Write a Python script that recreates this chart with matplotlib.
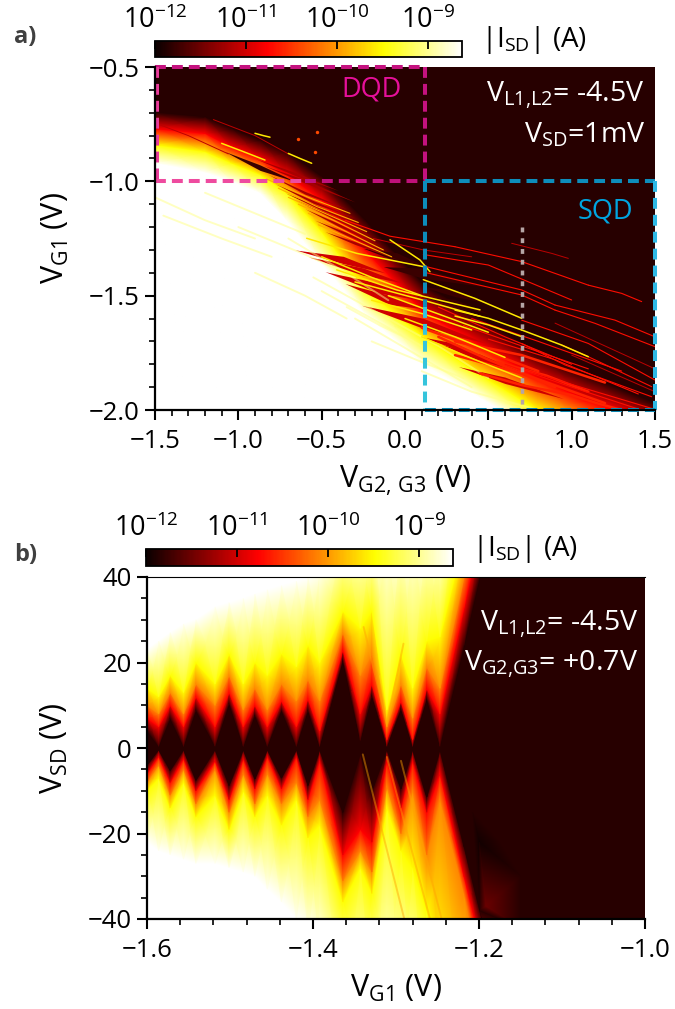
import matplotlib
matplotlib.use("Agg")
import matplotlib.pyplot as plt
import numpy as np
from matplotlib.cm import ScalarMappable
from matplotlib.colors import LogNorm
from matplotlib.ticker import FixedLocator, MultipleLocator

plt.rcParams['font.family'] = ['Open Sans', 'DejaVu Sans']
plt.rcParams['mathtext.fontset'] = 'custom'
plt.rcParams['mathtext.rm'] = 'Open Sans'
plt.rcParams['mathtext.default'] = 'rm'

# Colour scale, exponents of |I_SD|
z_white = -8.63
z_yellow = -9.49
z_orange = -10.1
z_red = -10.77
z_dark = -11.85

# Panel a: envelope of the bright region, V_G1 where each level is reached
a_vg23 = [-1.5, -1.2, -1.04, -0.87, -0.71, -0.5, -0.24, 0.11, 0.46, 0.8, 1.1, 1.5]
a_dark = [-0.70, -0.72, -0.77, -0.82, -0.87, -0.98, -1.17, -1.45, -1.60, -1.75, -1.85, -1.97]
a_red = [-0.77, -0.79, -0.85, -0.90, -0.97, -1.08, -1.30, -1.57, -1.72, -1.86, -1.96, -2.06]
a_yellow = [-0.84, -0.87, -0.92, -0.97, -1.05, -1.22, -1.47, -1.68, -1.85, -2.0, -2.1, -2.2]
a_white = [-0.92, -0.96, -1.0, -1.05, -1.17, -1.36, -1.58, -1.80, -1.95, -2.1, -2.2, -2.3]
a_floor = [-2.6, -2.6, -2.6, -2.6, -2.6, -2.6, -2.6, -2.6, -2.6, -2.6, -2.6, -2.6]

# Panel a: streaks (each row is one line)
faint_x = [[0.64, 0.88, 0.98], [-1.5, -1.3, -1.06], [-1.15, -0.9, -0.7], [-0.19, 0.11, 0.4], [0.9, 1.2, 1.5], [1.0, 1.25, 1.5]]
faint_y = [[-1.271, -1.315, -1.337], [-0.745, -0.8, -0.88], [-0.73, -0.8, -0.88], [-1.25, -1.3, -1.33], [-1.62, -1.72, -1.82], [-1.76, -1.84, -1.92]]
red_x = [[0.3, 0.7, 1.1], [1.1, 1.3, 1.42], [-0.36, -0.09, 0.3], [0.11, 0.5, 1.0], [0.11, 0.7, 0.9], [0.9, 1.26, 1.5],
         [0.13, 0.7, 0.9], [0.9, 1.14, 1.5], [0.94, 1.1, 1.48], [0.7, 1.1, 1.5], [0.7, 0.96, 1.48], [0.7, 0.98, 1.48],
         [0.4, 0.8, 1.3], [0.5, 0.9, 1.4], [0.35, 0.7, 1.1], [0.6, 1.0, 1.5], [0.2, 0.6, 1.0]]
red_y = [[-1.286, -1.351, -1.454], [-1.454, -1.49, -1.526], [-1.17, -1.24, -1.286], [-1.32, -1.366, -1.519],
         [-1.37, -1.475, -1.541], [-1.541, -1.607, -1.68], [-1.40, -1.497, -1.563], [-1.563, -1.621, -1.723],
         [-1.716, -1.767, -1.898], [-1.607, -1.709, -1.869], [-1.709, -1.803, -1.942], [-1.818, -1.884, -1.993],
         [-1.60, -1.70, -1.83], [-1.69, -1.78, -1.93], [-1.63, -1.72, -1.82], [-1.80, -1.90, -2.02], [-1.55, -1.68, -1.80]]
band_x = [[0.45, 0.7, 1.0], [1.0, 1.15, 1.3], [0.3, 0.7, 1.2], [0.3, 0.7, 1.2], [0.1, 0.4, 0.8], [0.55, 0.85, 1.1], [0.2, 0.5, 0.9]]
band_y = [[-1.84, -1.891, -1.935], [-1.935, -1.97, -2.0], [-1.70, -1.76, -1.88], [-1.76, -1.84, -1.97], [-1.64, -1.72, -1.83], [-1.79, -1.85, -1.92], [-1.68, -1.78, -1.90]]
yellow_x = [[0.11, 0.42, 0.7], [0.3, 0.5, 0.7], [0.7, 0.94, 1.1], [0.3, 0.5, 0.7], [-0.59, -0.29, 0.11], [-0.09, 0.09, 0.15],
            [-0.41, -0.05, 0.45], [-0.3, 0.11, 0.45], [-0.2, 0.11, 0.4], [-1.1, -0.97, -0.84], [-0.7, -0.63, -0.56], [-0.9, -0.85, -0.81],
            [0.0, 0.3, 0.6], [-0.1, 0.2, 0.5], [-0.5, -0.2, 0.1], [0.1, 0.35, 0.7]]
yellow_y = [[-1.43, -1.512, -1.599], [-1.563, -1.599, -1.65], [-1.65, -1.716, -1.767], [-1.589, -1.628, -1.679],
            [-1.249, -1.315, -1.373], [-1.256, -1.344, -1.395], [-1.387, -1.475, -1.562], [-1.44, -1.52, -1.59],
            [-1.52, -1.58, -1.65], [-0.834, -0.87, -0.907], [-0.878, -0.9, -0.921], [-0.79, -0.80, -0.807],
            [-1.60, -1.68, -1.77], [-1.50, -1.58, -1.66], [-1.33, -1.42, -1.50], [-1.68, -1.76, -1.86]]
fine_bright_x = [[-0.76, -0.53, -0.28], [-0.70, -0.48, -0.23], [-0.64, -0.43, -0.18], [-0.58, -0.38, -0.13], [-0.52, -0.33, -0.08], [-0.83, -0.58, -0.33]]
fine_bright_y = [[-1.03, -1.11, -1.18], [-1.07, -1.14, -1.22], [-1.10, -1.17, -1.26], [-1.14, -1.21, -1.30], [-1.19, -1.25, -1.33], [-0.99, -1.07, -1.14]]
pale_x = [[-1.5, -1.2, -0.9], [-1.45, -1.1, -0.8], [-1.2, -0.9, -0.6], [-1.0, -0.6, -0.3], [-0.7, -0.4, -0.1],
          [-0.5, -0.2, 0.1], [-0.3, 0.05, 0.4], [-0.1, 0.2, 0.5], [0.1, 0.4, 0.8], [-0.9, -0.6, -0.35],
          [-0.55, -0.3, -0.1], [-0.35, -0.15, 0.05], [-0.2, 0.1, 0.35]]
pale_y = [[-1.07, -1.17, -1.25], [-1.15, -1.25, -1.33], [-1.05, -1.14, -1.23], [-1.2, -1.32, -1.42], [-1.25, -1.38, -1.52],
          [-1.48, -1.6, -1.72], [-1.6, -1.75, -1.9], [-1.6, -1.72, -1.86], [-1.83, -1.92, -2.0], [-1.4, -1.5, -1.6],
          [-1.42, -1.52, -1.6], [-1.55, -1.63, -1.7], [-1.7, -1.79, -1.86]]
spot_x = [-0.64, -0.54, -0.53]
spot_y = [-0.816, -0.87, -0.786]

# Panel a: lens shaped dark gaps between the lines, mid line and half width at the middle
black_x = [[-0.25, -0.05, 0.13], [-0.13, 0.11, 0.47], [0.1, 0.3, 0.5], [0.1, 0.3, 0.5], [-1.08, -0.87, -0.66]]
black_y = [[-1.293, -1.33, -1.373], [-1.373, -1.402, -1.46], [-1.46, -1.49, -1.533], [-1.505, -1.53, -1.578], [-0.87, -0.94, -1.0]]
black_w = [0.018, 0.022, 0.014, 0.014, 0.012]
maroon_x = [[-0.66, -0.37, -0.12], [-0.58, -0.25, -0.02], [-0.48, -0.15, 0.14], [-0.36, -0.09, 0.14], [-0.26, 0.11, 0.48],
            [0.1, 0.3, 0.48], [0.22, 0.45, 0.75], [0.32, 0.6, 0.95]]
maroon_y = [[-1.30, -1.344, -1.40], [-1.33, -1.395, -1.443], [-1.395, -1.468, -1.525], [-1.447, -1.519, -1.56],
            [-1.542, -1.621, -1.706], [-1.68, -1.72, -1.77], [-1.714, -1.77, -1.85], [-1.81, -1.87, -1.95]]
maroon_w = [0.016, 0.016, 0.022, 0.02, 0.022, 0.012, 0.014, 0.014]
fine_dark_x = [[-0.78, -0.55, -0.3], [-0.72, -0.5, -0.25], [-0.66, -0.45, -0.2], [-0.6, -0.4, -0.15], [-0.54, -0.35, -0.1],
               [-0.48, -0.3, -0.05], [-0.82, -0.6, -0.35], [-0.85, -0.6, -0.3], [-0.9, -0.65, -0.4]]
fine_dark_y = [[-1.01, -1.09, -1.16], [-1.05, -1.12, -1.20], [-1.08, -1.15, -1.24], [-1.12, -1.19, -1.28], [-1.17, -1.23, -1.31],
               [-1.22, -1.27, -1.34], [-0.97, -1.05, -1.12], [-0.93, -1.0, -1.09], [-0.90, -0.97, -1.04]]
fine_dark_w = [0.006, 0.006, 0.006, 0.006, 0.006, 0.006, 0.006, 0.007, 0.007]

# Panel b: V_SD where each level is crossed, per V_G1 column
b_vg1 = [-1.600, -1.586, -1.572, -1.556, -1.541, -1.518, -1.501, -1.484, -1.470, -1.455, -1.438, -1.420, -1.406,
         -1.392, -1.364, -1.343, -1.329, -1.311, -1.294, -1.280, -1.263, -1.247, -1.218, -1.199, -1.166, -1.0]
up_dark = [4, .4, 6.9, .4, 8.8, .4, 10.4, .4, 7.6, .4, 8.8, .4, 8.8, .4, 20.5, 1.8, 12.3, .4, 9.2, .4, 11.5, .4, 24, 40, 66, 120]
up_red = [7, 5, 10, 5, 12, 5, 13, 5, 10, 5, 11, 5, 11.5, 4, 23, 8, 15, 2, 11, 2, 14, 8, 33, 50, 75, 130]
up_orange = [10, 8, 13, 8, 15, 10, 17, 9, 14, 9, 15, 11, 16, 11, 27, 17, 22, 5, 15, 7, 19, 14, 40, 57, 82, 140]
up_yellow = [14, 12, 17, 13, 20, 15, 22, 15, 20, 17, 22, 19, 24, 20, 32, 28, 32, 9, 22, 14, 25, 26, 49, 65, 90, 150]
up_white = [23, 25, 27, 29, 30, 33, 34, 35, 36, 37, 38, 39, 40, 42, 50, 50, 50, 50, 50, 50, 50, 50, 70, 80, 110, 170]
lo_dark = [-4, -.4, -5.2, -.4, -7.5, -.4, -8.7, -.4, -7.2, -.4, -7, -.4, -8.7, -.4, -15, -1.3, -10, -.4, -9.5, -.4, -11.4, -.4, -23, -38, -64, -120]
lo_red = [-6, -2, -8, -2.5, -10, -3, -12, -2.5, -9.5, -2, -9.5, -2, -12, -3, -25, -19, -22, -3, -14, -3, -15, -6, -30, -45, -72, -130]
lo_orange = [-8, -4, -11, -5, -13, -5, -15, -6, -13, -6, -13, -8, -16, -12, -31, -24, -29, -9, -20, -10, -25, -12, -34, -52, -80, -140]
lo_yellow = [-10, -7, -14, -8, -16, -11, -19, -10, -16, -11, -18, -12, -21, -18, -36, -28, -34, -14, -24, -28, -38, -52, -70, -80, -100, -160]
lo_white = [-22, -24, -25, -26, -27, -27, -28, -29, -30, -33, -36, -40, -43, -47, -60, -60, -60, -60, -60, -60, -65, -70, -90, -100, -120, -180]

# Panel b: orange side lines of the excited states
side_x = [[-1.339, -1.311], [-1.291, -1.311], [-1.311, -1.259], [-1.340, -1.290], [-1.294, -1.245]]
side_y = [[28.3, 5.7], [24.4, 5.7], [-2.1, -40], [-1.5, -40], [-3, -40]]

# Panel b: weak glow and dark patch right of the edge, lower part
glow_x = [-1.208, -1.2, -1.175, -1.192, -1.15, -1.199, -1.192, -1.15]
glow_y = [-15, -22, -22, -37, -30, -38, -42, -42]
glow_z = [-11.85, -11.95, -11.85, -11.5, -11.85, -11.85, -11.5, -11.85]

cbar_ticks = [1e-12, 1e-11, 1e-10, 1e-9]

norm = LogNorm(vmin=1e-12, vmax=10 ** z_white)
cmap = plt.get_cmap('hot')


def color_of(z):
    return cmap(norm(10 ** z))


def add_axes_px(fig, left, top, right, bottom):
    return fig.add_axes([left / 675, 1 - bottom / 1009, (right - left) / 675, (bottom - top) / 1009])


def draw_mesh(ax, x, rows, levels):
    Y = np.array(rows, dtype=float)
    X = np.tile(np.array(x, dtype=float), (Y.shape[0], 1))
    C = np.array([[10.0 ** z] * Y.shape[1] for z in levels])
    ax.pcolormesh(X, Y, C, shading='gouraud', cmap=cmap, norm=norm)


def draw_lines(ax, xs, ys, z, lw, alpha=1.0):
    ax.plot(np.array(xs).T, np.array(ys).T, color=color_of(z), lw=lw, alpha=alpha, solid_capstyle='round')


def draw_lenses(ax, xs, ys, widths, z):
    for x, y, w in zip(xs, ys, widths):
        y = np.array(y)
        half = np.array([0, w, 0])
        ax.fill_between(x, y - half, y + half, color=color_of(z), lw=0)


def style_axes(ax):
    for side in ['top', 'right']:
        ax.spines[side].set_visible(False)
    for side in ['left', 'bottom']:
        ax.spines[side].set_linewidth(1.6)
    ax.tick_params(which='major', length=7, width=1.5, labelsize=18.5, pad=4)
    ax.tick_params(axis='x', which='major', pad=7)
    ax.tick_params(which='minor', length=4, width=1.2)


def make_cbar(fig, left, top, right, bottom):
    cax = add_axes_px(fig, left, top, right, bottom)
    cb = fig.colorbar(ScalarMappable(norm=norm, cmap=cmap), cax=cax, orientation='horizontal', ticklocation='top')
    cb.set_ticks(cbar_ticks)
    cb.ax.xaxis.set_minor_locator(FixedLocator([]))
    cb.ax.tick_params(which='major', direction='in', length=6, width=1.3, labelsize=19.5, pad=4, color='black')
    cb.outline.set_linewidth(1.3)
    return cb


fig = plt.figure(figsize=(6.75, 10.09), dpi=100)

# a)
ax_a = add_axes_px(fig, 155, 67, 655, 410)
ax_a.set_facecolor(color_of(z_dark))
draw_mesh(ax_a, a_vg23, [a_floor, a_white, a_yellow, a_red, a_dark], [z_white, z_white, z_yellow, z_red, z_dark])
draw_lines(ax_a, pale_x, pale_y, -9.05, 1.4, 0.5)
draw_lenses(ax_a, maroon_x, maroon_y, maroon_w, -11.0)
draw_lenses(ax_a, black_x, black_y, black_w, -11.75)
draw_lines(ax_a, band_x, band_y, -10.6, 1.8)
draw_lenses(ax_a, fine_dark_x, fine_dark_y, fine_dark_w, -11.2)
draw_lines(ax_a, fine_bright_x, fine_bright_y, -9.9, 0.8)
draw_lines(ax_a, faint_x, faint_y, -11.1, 0.7)
draw_lines(ax_a, red_x, red_y, -10.7, 0.8)
draw_lines(ax_a, yellow_x, yellow_y, -9.6, 1.1)
ax_a.scatter(spot_x, spot_y, s=6, color=color_of(-10.4), linewidths=0)
ax_a.set_xlim(-1.5, 1.5)
ax_a.set_ylim(-2.0, -0.5)
ax_a.xaxis.set_major_locator(MultipleLocator(0.5))
ax_a.xaxis.set_minor_locator(MultipleLocator(0.1))
ax_a.yaxis.set_major_locator(MultipleLocator(0.5))
ax_a.yaxis.set_minor_locator(MultipleLocator(0.1))
style_axes(ax_a)
ax_a.set_xlabel(r'$V_{G2{,}\ G3}$ (V)', fontsize=22, labelpad=7)
ax_a.set_ylabel(r'$V_{G1}$ (V)', fontsize=22, labelpad=13)

# dashed boxes
dash = (0, (2.7, 1.5))
ax_a.plot([-1.5, 0.12], [-0.5, -0.5], color='#c4127f', lw=2.9, ls=dash, clip_on=False)
ax_a.plot([0.12, 0.12], [-0.5, -1.0], color='#c4127f', lw=2.9, ls=dash, clip_on=False)
ax_a.plot([-1.49, -1.49], [-0.5, -1.0], color='#e83c9a', lw=2.9, ls=dash, clip_on=False)
ax_a.plot([-1.5, -0.6], [-1.0, -1.0], color='#ee4b9f', lw=2.9, ls=dash, clip_on=False)
ax_a.plot([-0.6, 0.12], [-1.0, -1.0], color='#bf1179', lw=2.9, ls=dash, clip_on=False)
ax_a.plot([0.12, 1.5], [-1.0, -1.0], color='#0d8dbb', lw=2.9, ls=dash, clip_on=False)
ax_a.plot([0.12, 0.12], [-1.0, -1.55], color='#0d8dbb', lw=2.9, ls=dash, clip_on=False)
ax_a.plot([0.12, 0.12], [-1.55, -2.0], color='#35c4dc', lw=2.9, ls=dash, clip_on=False)
ax_a.plot([1.5, 1.5], [-1.0, -2.0], color='#2fb9e6', lw=2.9, ls=dash, clip_on=False)
ax_a.plot([0.12, 1.5], [-2.0, -2.0], color='#0d96c5', lw=2.9, ls=dash, clip_on=False)
ax_a.plot([0.7, 0.7], [-1.2, -2.0], color='#b5a5a5', lw=2.5, ls=(0, (1.4, 1.7)))

ax_a.text(-0.018, -0.6, 'DQD', color='#e6109a', fontsize=19.5, ha='right', va='center')
ax_a.text(1.368, -1.134, 'SQD', color='#00a5e0', fontsize=19.5, ha='right', va='center')
ax_a.text(1.44, -0.622, r'$V_{L1{,}L2}$= -4.5V', color='white', fontsize=20.5, ha='right', va='center')
ax_a.text(1.44, -0.797, r'$V_{SD}$=1mV', color='white', fontsize=20.5, ha='right', va='center')

make_cbar(fig, 155, 41, 462, 57)
fig.text(481 / 675, 1 - 40 / 1009, r'|$I_{SD}$| (A)', fontsize=20, va='center')
fig.text(14 / 675, 1 - 37 / 1009, 'a)', fontsize=17, fontweight='bold', color='#404040', va='center')

# b)
ax_b = add_axes_px(fig, 147, 577, 645, 919)
rows_b = [lo_white, lo_yellow, lo_orange, lo_red, lo_dark, up_dark, up_red, up_orange, up_yellow, up_white]
levels_b = [z_white, z_yellow, z_orange, z_red, z_dark, z_dark, z_red, z_orange, z_yellow, z_white]
draw_mesh(ax_b, b_vg1, rows_b, levels_b)
draw_lines(ax_b, side_x, side_y, -9.95, 1.4, 0.45)
ax_b.tripcolor(glow_x, glow_y, [10.0 ** z for z in glow_z], shading='gouraud', cmap=cmap, norm=norm)
ax_b.set_xlim(-1.6, -1.0)
ax_b.set_ylim(-40, 40)
ax_b.xaxis.set_major_locator(MultipleLocator(0.2))
ax_b.xaxis.set_minor_locator(MultipleLocator(0.04))
ax_b.yaxis.set_major_locator(MultipleLocator(20))
ax_b.yaxis.set_minor_locator(MultipleLocator(5))
style_axes(ax_b)
ax_b.spines['top'].set_visible(True)
ax_b.set_xlabel(r'$V_{G1}$ (V)', fontsize=22, labelpad=7)
ax_b.set_ylabel(r'$V_{SD}$ (V)', fontsize=22, labelpad=13)
ax_b.text(-1.008, 29, r'$V_{L1{,}L2}$= -4.5V', color='white', fontsize=20.5, ha='right', va='center')
ax_b.text(-1.008, 19.6, r'$V_{G2{,}G3}$= +0.7V', color='white', fontsize=20.5, ha='right', va='center')

make_cbar(fig, 146, 549, 453, 566)
fig.text(472 / 675, 1 - 549 / 1009, r'|$I_{SD}$| (A)', fontsize=20, va='center')
fig.text(14 / 675, 1 - 555 / 1009, 'b)', fontsize=17, fontweight='bold', color='#404040', va='center')

fig.savefig('out.png', dpi=100)
